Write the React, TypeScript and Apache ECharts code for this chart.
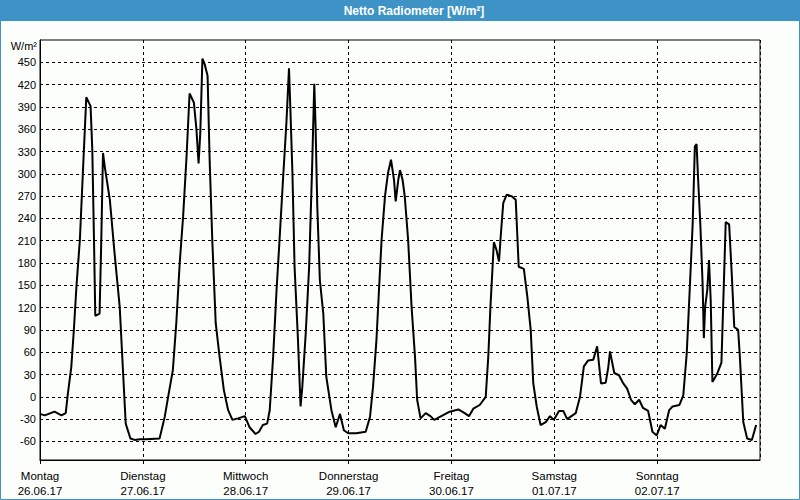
import React, { useEffect, useRef } from "react";
import * as echarts from "echarts";

const dayNames = ["Montag", "Dienstag", "Mittwoch", "Donnerstag", "Freitag", "Samstag", "Sonntag"];
const dayDates = ["26.06.17", "27.06.17", "28.06.17", "29.06.17", "30.06.17", "01.07.17", "02.07.17"];
const yTicks = [-60, -30, 0, 30, 60, 90, 120, 150, 180, 210, 240, 270, 300, 330, 360, 390, 420, 450];

// time in hours since Monday 00:00
const hours = [
  0.0, 1.1, 3.4, 5.0, 6.0, 6.5, 7.3, 7.9, 8.5, 9.3, 10.0, 10.8, 11.8, 12.2, 12.6, 12.9, 13.9, 14.3, 14.7, 15.1,
  16.3, 17.4, 18.6, 19.4, 20.0, 21.1, 22.1, 23.3, 24.8, 27.9,
  29.1, 29.9, 31.0, 31.8, 32.6, 33.4, 34.2, 34.9, 35.9, 36.5, 37.0, 37.4, 37.9, 38.4, 39.1, 39.6, 40.2, 41.0,
  41.9, 42.9, 43.9, 44.9, 46.2, 47.8, 48.9, 50.3, 51.1, 52.0, 53.0, 53.6, 54.4, 55.2, 55.8,
  56.7, 57.5, 58.1, 58.4, 58.9, 59.4, 60.2, 60.8, 61.2, 62.0, 62.8, 63.5, 64.0, 64.3, 64.7, 65.3, 66.1, 66.8,
  68.0, 69.0, 70.0, 70.9, 71.9, 73.8, 76.0, 77.0, 77.7, 78.5, 79.1, 79.7, 80.5, 81.2, 81.9, 82.6, 83.0, 83.6, 84.0,
  84.6, 85.1, 85.9, 86.7, 87.5, 88.0, 88.8, 90.0, 91.1, 92.0, 93.3, 95.6, 97.6, 99.1, 100.1, 101.1, 102.6, 104.0,
  104.6, 105.1, 105.6, 105.9, 106.5, 107.1, 107.5, 108.1, 108.9, 110.0, 111.0, 111.7, 112.9,
  113.7, 114.5, 115.1, 115.9, 116.8, 118.0, 119.0, 119.9, 121.1, 122.1, 123.0, 125.0, 126.0, 126.9, 127.9, 129.1,
  130.0, 130.9, 132.0, 132.6, 133.0, 134.0, 135.1, 136.1, 137.0, 137.9, 138.8, 139.8,
  140.7, 141.9, 142.9, 143.9, 144.8, 145.8, 146.8, 147.6, 149.2, 150.1, 150.9, 151.6, 152.3, 152.8, 153.2, 153.6,
  154.1, 154.6, 154.9, 155.2, 155.7, 156.1, 156.5, 156.9, 158.0, 159.0, 159.4, 160.0, 160.8, 161.4, 162.0, 162.9,
  163.3, 164.1, 165.0, 166.1, 167.1
];

// Netto radiation in W/m²
const radiation = [
  -23, -25, -20, -25, -22, 4, 40, 90, 148, 211, 301, 403, 391, 333, 211, 109, 112, 211, 328, 310,
  265, 193, 121, 31, -36, -56, -58, -57, -57, -56,
  -27, 0, 36, 99, 180, 243, 324, 408, 396, 360, 314, 355, 455, 448, 432, 315, 211, 99,
  54, 9, -18, -31, -29, -26, -41, -50, -47, -38, -36, -18, 54, 144, 202,
  292, 369, 442, 391, 301, 175, 76, -13, 13, 85, 175, 310, 421, 364, 256, 157, 112, 27,
  -18, -41, -23, -45, -49, -49, -47, -27, 13, 76, 144, 211, 270, 301, 319, 292, 263, 292, 305,
  292, 270, 211, 121, 54, -4, -29, -22, -26, -31, -27, -20, -17, -22, -26, -16, -11, 0,
  54, 121, 175, 208, 198, 182, 216, 261, 272, 270, 265, 175, 172,
  135, 90, 18, -13, -38, -34, -26, -31, -19, -19, -30, -22, 0, 41, 49, 50,
  68, 18, 19, 40, 61, 32, 29, 18, 11, -4, -10, -4,
  -15, -19, -47, -52, -38, -43, -18, -13, -11, 2, 58, 144, 234, 337, 340, 288,
  229, 153, 79, 121, 144, 184, 130, 20, 31, 46, 121, 235, 232, 166, 94, 90,
  54, -34, -56, -58, -38
];

const FONT = "'Liberation Sans', Arial, sans-serif";
const BLUE = "#3d93c5";

export default function App() {
  const ref = useRef<HTMLDivElement>(null);

  useEffect(() => {
    if (!ref.current) return;
    const chart = echarts.init(ref.current, null, { renderer: "svg" });
    const seriesData = hours.map((h, i) => [h, radiation[i]]);

    chart.setOption({
      animation: false,
      backgroundColor: "#fcfefc",
      grid: {
        left: 40,
        right: 40,
        top: 40,
        bottom: 40,
        show: true,
        borderColor: "#000",
        borderWidth: 1,
        backgroundColor: "transparent",
      },
      graphic: [
        { type: "rect", shape: { x: 0, y: 0, width: 800, height: 21 }, style: { fill: BLUE }, z: 10 },
        {
          type: "rect",
          shape: { x: 0.5, y: 0.5, width: 799, height: 499 },
          style: { fill: "none", stroke: BLUE, lineWidth: 1 },
          z: 10,
        },
        {
          type: "text",
          x: 414,
          y: 11,
          style: {
            text: "Netto Radiometer [W/m²]",
            fill: "#fff",
            font: `bold 12px ${FONT}`,
            align: "center",
            verticalAlign: "middle",
          },
          z: 11,
        },
        {
          type: "text",
          x: 37,
          y: 46,
          style: {
            text: "W/m²",
            fill: "#000",
            font: `11px ${FONT}`,
            align: "right",
            verticalAlign: "middle",
          },
          z: 11,
        },
      ],
      xAxis: {
        type: "value",
        min: 0,
        max: 168,
        interval: 24,
        axisLine: { show: true, onZero: false, lineStyle: { color: "#000", width: 1 } },
        axisTick: { show: true, length: 4, lineStyle: { color: "#000" } },
        splitLine: { show: true, lineStyle: { color: "#000", type: [3, 3], width: 1 } },
        axisLabel: {
          color: "#000",
          fontFamily: FONT,
          fontSize: 11.5,
          lineHeight: 15,
          margin: 8,
          showMaxLabel: false,
          formatter: (v: number) => {
            const i = Math.round(v / 24);
            if (i < 0 || i >= dayNames.length) return "";
            return dayNames[i] + "\n" + dayDates[i];
          },
        },
      },
      yAxis: {
        type: "value",
        min: -85,
        max: 480,
        interval: 5,
        axisLine: { show: true, onZero: false, lineStyle: { color: "#000" } },
        axisTick: { show: false },
        splitLine: { show: false },
        axisLabel: {
          color: "#000",
          fontFamily: FONT,
          fontSize: 11,
          margin: 4,
          formatter: (v: number) => (yTicks.indexOf(v) >= 0 ? String(v) : ""),
        },
      },
      series: [
        {
          type: "line",
          data: [],
          silent: true,
          z: 1,
          markLine: {
            silent: true,
            symbol: ["none", "none"],
            label: { show: false },
            lineStyle: { color: "#000", type: [3, 3], width: 1 },
            emphasis: { disabled: true },
            data: yTicks.map((t) => ({ yAxis: t })),
          },
        },
        {
          type: "line",
          data: seriesData,
          showSymbol: false,
          z: 3,
          lineStyle: { color: "#000", width: 2 },
          itemStyle: { color: "#000" },
        },
      ],
    });

    return () => chart.dispose();
  }, []);

  return (
    <div
      ref={ref}
      style={{ position: "absolute", left: 0, top: 0, width: 800, height: 500 }}
    />
  );
}
